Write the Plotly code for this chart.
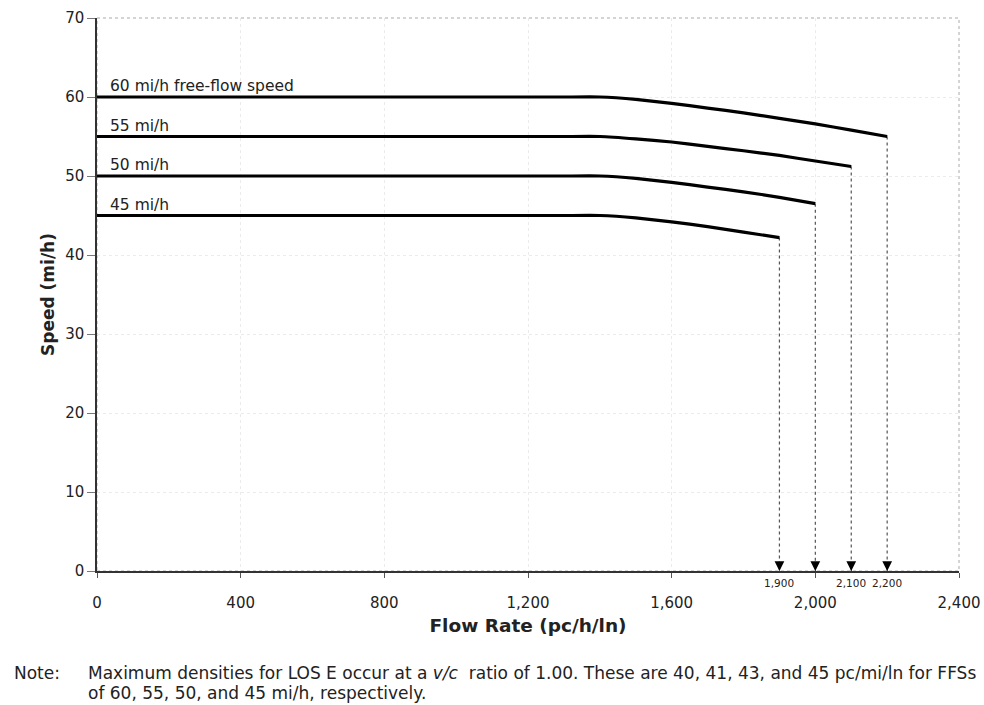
import plotly.graph_objects as go

# ---- data ----
ffs_labels = ["60 mi/h free-flow speed", "55 mi/h", "50 mi/h", "45 mi/h"]
ffs_values = [60, 55, 50, 45]

flow_60 = [0, 1300, 1400, 1500, 1600, 1700, 1800, 1900, 2000, 2100, 2200]
speed_60 = [60, 60, 60, 59.7, 59.2, 58.6, 58.0, 57.3, 56.6, 55.8, 55.0]

flow_55 = [0, 1300, 1400, 1500, 1600, 1700, 1800, 1900, 2000, 2100]
speed_55 = [55, 55, 55, 54.7, 54.3, 53.75, 53.2, 52.6, 51.9, 51.2]

flow_50 = [0, 1300, 1400, 1500, 1600, 1700, 1800, 1900, 2000]
speed_50 = [50, 50, 50, 49.7, 49.2, 48.6, 48.0, 47.3, 46.5]

flow_45 = [0, 1300, 1400, 1500, 1600, 1700, 1800, 1900]
speed_45 = [45, 45, 45, 44.7, 44.2, 43.6, 42.9, 42.2]

capacity_flow = [2200, 2100, 2000, 1900]
capacity_labels = ["2,200", "2,100", "", "1,900"]

x_ticks = [0, 400, 800, 1200, 1600, 2000, 2400]
y_ticks = [0, 10, 20, 30, 40, 50, 60, 70]

note_label = "Note:"
note_line1 = ("Maximum densities for LOS E occur at a <i>v/c</i>  ratio of 1.00. "
              "These are 40, 41, 43, and 45 pc/mi/ln for FFSs")
note_line2 = "of 60, 55, 50, and 45 mi/h, respectively."

FONT = "DejaVu Sans"

curves = [(flow_60, speed_60), (flow_55, speed_55), (flow_50, speed_50), (flow_45, speed_45)]

fig = go.Figure()

# vertical dotted drop lines from capacity points
for (fx, sy) in curves:
    fig.add_trace(go.Scatter(x=[fx[-1], fx[-1]], y=[sy[-1], 0], mode="lines",
                             line=dict(color="#555555", width=1.2, dash="dot"),
                             hoverinfo="skip", showlegend=False))

for (fx, sy) in curves:
    fig.add_trace(go.Scatter(x=fx, y=sy, mode="lines",
                             line=dict(color="black", width=3.2, shape="spline", smoothing=0.3),
                             showlegend=False))

annotations = []
for lab, v in zip(ffs_labels, ffs_values):
    annotations.append(dict(x=30, y=v, xref="x", yref="y", text=lab, showarrow=False,
                            xanchor="left", yanchor="bottom", yshift=0,
                            font=dict(family=FONT, size=15.5, color="#222")))

for (fx, sy) in curves:
    annotations.append(dict(x=fx[-1], y=0, xref="x", yref="y", text="", showarrow=True,
                            arrowhead=2, arrowsize=1.3, arrowwidth=1.5, arrowcolor="black",
                            ax=0, ay=-9, axref="pixel", ayref="pixel"))

for cx, cl in zip(capacity_flow, capacity_labels):
    if cl:
        annotations.append(dict(x=cx, y=0, xref="x", yref="y", text=cl, showarrow=False,
                                xanchor="center", yanchor="top", yshift=-4,
                                font=dict(family=FONT, size=10.5, color="#222")))

annotations.append(dict(x=-0.0986, y=-0.1844, xref="paper", yref="paper", text=note_label,
                        showarrow=False, xanchor="left", yanchor="middle",
                        font=dict(family=FONT, size=17, color="#222")))
annotations.append(dict(x=-0.0128, y=-0.1844, xref="paper", yref="paper", text=note_line1,
                        showarrow=False, xanchor="left", yanchor="middle",
                        font=dict(family=FONT, size=17, color="#222")))
annotations.append(dict(x=-0.0128, y=-0.221, xref="paper", yref="paper", text=note_line2,
                        showarrow=False, xanchor="left", yanchor="middle",
                        font=dict(family=FONT, size=17, color="#222")))

fig.update_layout(
    width=984, height=705,
    margin=dict(l=97, r=25, t=18, b=134),
    paper_bgcolor="white", plot_bgcolor="white",
    font=dict(family=FONT, size=15, color="#222"),
    annotations=annotations,
    shapes=[dict(type="rect", xref="paper", yref="paper", x0=0, y0=0, x1=1, y1=1,
                 line=dict(color="#aaaaaa", width=1, dash="dot"), layer="below")],
    xaxis=dict(range=[0, 2400], tickvals=x_ticks, tickformat=",",
               automargin=False, ticklabeloverflow="allow",
               showline=True, linecolor="#333", linewidth=1.5,
               ticks="outside", ticklen=5, tickcolor="#555",
               ticklabelstandoff=12,
               showgrid=True, gridcolor="#ebebeb", griddash="dot", gridwidth=1,
               zeroline=False,
               title=dict(text="<b>Flow Rate (pc/h/ln)</b>", font=dict(size=18.5), standoff=8),
               tickfont=dict(size=15)),
    yaxis=dict(range=[0, 70], tickvals=y_ticks,
               automargin=False,
               showline=True, linecolor="#333", linewidth=1.5,
               ticks="outside", ticklen=8, tickcolor="#777",
               showgrid=True, gridcolor="#ebebeb", griddash="dot", gridwidth=1,
               zeroline=False,
               title=dict(text="<b>Speed (mi/h)</b>", font=dict(size=17), standoff=6),
               tickfont=dict(size=15)),
)

# remove the page's default 8px body margin so the 984x705 figure fills the window
fig.write_html("out.html", config={"displayModeBar": False},
               post_script="document.body.style.margin='0px';")
